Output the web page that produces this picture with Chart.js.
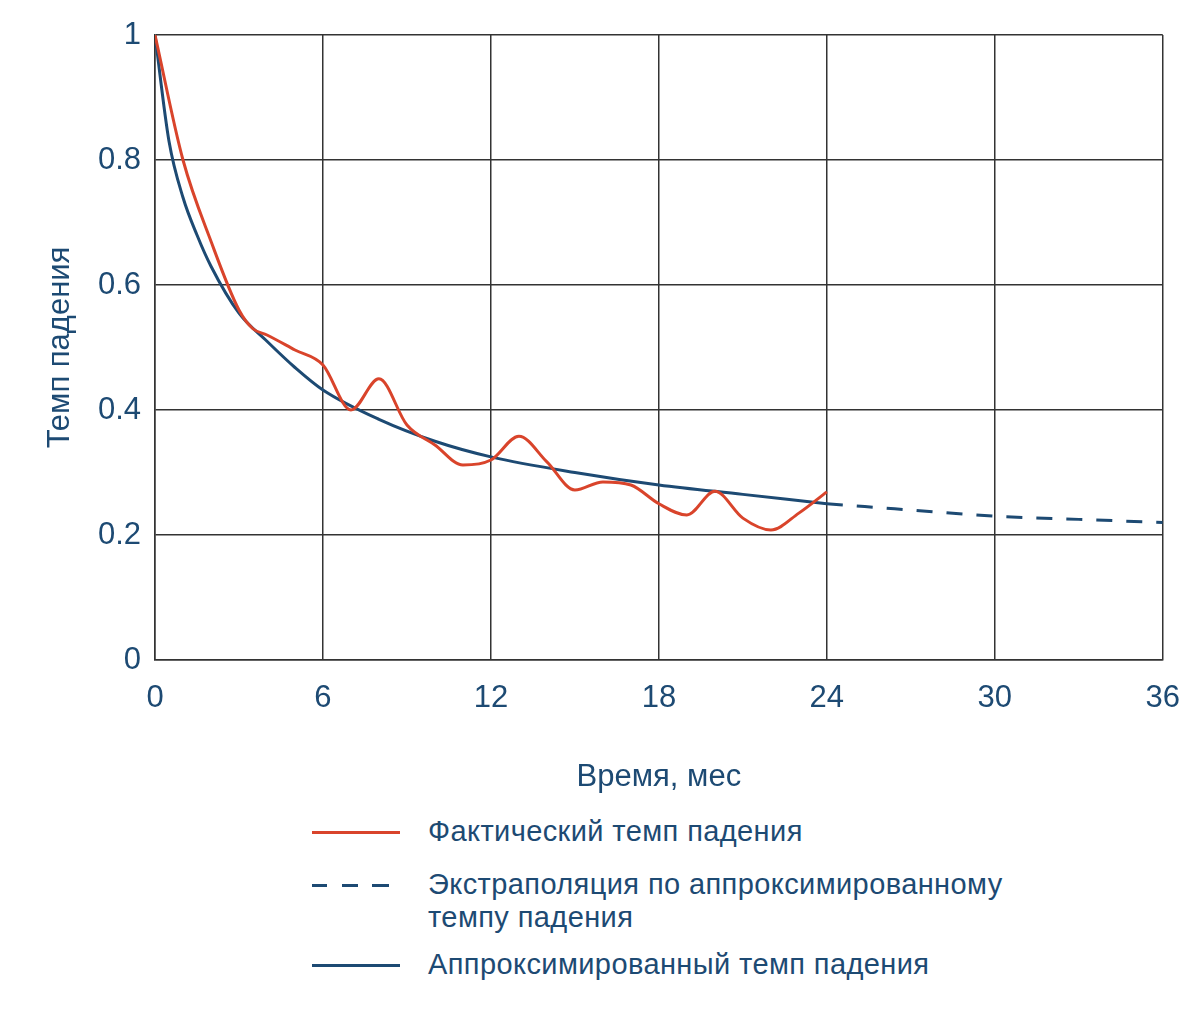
<!DOCTYPE html>
<html><head><meta charset="utf-8">
<script src="https://cdn.jsdelivr.net/npm/chart.js@4/dist/chart.umd.min.js"></script>
<style>
body{margin:0;background:#fff;font-family:"Liberation Sans",Arial,sans-serif;color:#1d4a73}
#wrap{position:relative;width:1200px;height:800px}
.leg{position:absolute;left:312px;font-size:29px;color:#1d4a73;letter-spacing:0.4px}
.leg .ln{position:absolute;left:0;width:88px;top:16px;border-top:3px solid}
.leg .tx{position:absolute;left:116px;white-space:nowrap;line-height:33px}
</style></head><body>
<div id="wrap"><canvas id="c" width="1200" height="800"></canvas></div>
<div class="leg" style="top:815px"><div class="ln" style="border-color:#d9442b"></div><div class="tx">Фактический темп падения</div></div>
<div class="leg" style="top:868px"><div class="ln" style="border-top:3px dashed #1d4a73;border-image:repeating-linear-gradient(90deg,#1d4a73 0 16px,transparent 16px 30px) 1"></div><div class="tx">Экстраполяция по аппроксимированному<br>темпу падения</div></div>
<div class="leg" style="top:948px"><div class="ln" style="border-color:#1d4a73"></div><div class="tx">Аппроксимированный темп падения</div></div>
<script>
const actualX=[0,1,2,3,3.5,4,5,6,7,8,9,10,11,12,13,14,15,16,17,18,19,20,21,22,23,24];
const actualY=[1,0.8,0.67,0.56,0.53,0.52,0.496,0.472,0.40,0.45,0.376,0.344,0.312,0.32,0.358,0.317,0.272,0.285,0.28,0.25,0.232,0.27,0.227,0.208,0.235,0.269];
const approxX=[0,0.5,1,1.5,2,3,4,5,6,8,10,12,15,18,21,24];
const approxY=[1,0.83,0.74,0.68,0.63,0.555,0.51,0.468,0.432,0.385,0.35,0.325,0.3,0.28,0.265,0.25];
const extraX=[24,27,30,33,36];
const extraY=[0.25,0.24,0.23,0.225,0.22];
const xTicks=[0,6,12,18,24,30,36];
const yTicks=[0,0.2,0.4,0.6,0.8,1];
const pts=(xs,ys)=>xs.map((x,i)=>({x,y:ys[i]}));
const blue='#1d4a73',red='#d9442b';
new Chart(document.getElementById('c'),{type:'scatter',
data:{datasets:[
{data:pts(actualX,actualY),showLine:true,borderColor:red,borderWidth:3,pointRadius:0,cubicInterpolationMode:'monotone'},
{data:pts(approxX,approxY),showLine:true,borderColor:blue,borderWidth:3,pointRadius:0,cubicInterpolationMode:'monotone'},
{data:pts(extraX,extraY),showLine:true,borderColor:blue,borderWidth:3,borderDash:[16,14],pointRadius:0,cubicInterpolationMode:'monotone'}
]},
options:{responsive:false,animation:false,
layout:{padding:{top:35,right:30,left:38,bottom:0}},
plugins:{legend:{display:false},tooltip:{enabled:false}},
scales:{
x:{type:'linear',min:0,max:36,afterBuildTicks:a=>{a.ticks=xTicks.map(v=>({value:v}))},
 afterFit:s=>{s.height=140},
 grid:{color:'#333',lineWidth:1.5,drawTicks:false},border:{color:'#333',width:1.5},
 ticks:{color:blue,font:{size:31},padding:20},
 title:{display:true,text:'Время, мес',color:blue,font:{size:31},padding:{top:18}}},
y:{min:0,max:1,afterBuildTicks:a=>{a.ticks=yTicks.map(v=>({value:v}))},
 afterFit:s=>{s.width=117},
 grid:{color:'#333',lineWidth:1.5,drawTicks:false},border:{color:'#333',width:1.5},
 ticks:{color:blue,font:{size:31},padding:14,callback:v=>String(v)},
 title:{display:true,text:'Темп падения',color:blue,font:{size:31},padding:{bottom:8}}}
}}});
</script></body></html>
